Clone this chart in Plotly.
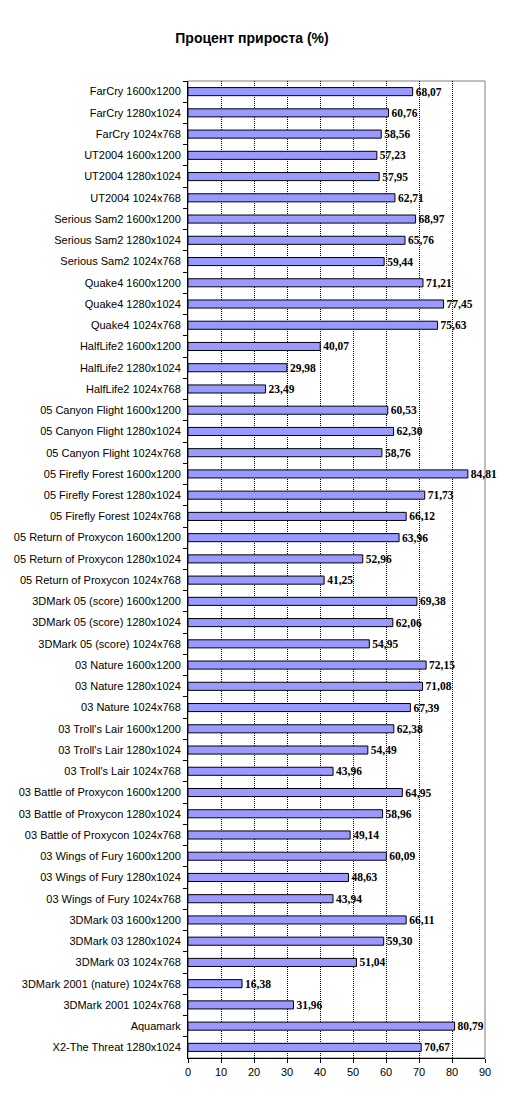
import plotly.graph_objects as go

# categories top to bottom, as in the chart
tests = [
    "FarCry 1600x1200", "FarCry 1280x1024", "FarCry 1024x768",
    "UT2004 1600x1200", "UT2004 1280x1024", "UT2004 1024x768",
    "Serious Sam2 1600x1200", "Serious Sam2 1280x1024", "Serious Sam2 1024x768",
    "Quake4 1600x1200", "Quake4 1280x1024", "Quake4 1024x768",
    "HalfLife2 1600x1200", "HalfLife2 1280x1024", "HalfLife2 1024x768",
    "05 Canyon Flight 1600x1200", "05 Canyon Flight 1280x1024", "05 Canyon Flight 1024x768",
    "05 Firefly Forest 1600x1200", "05 Firefly Forest 1280x1024", "05 Firefly Forest 1024x768",
    "05 Return of Proxycon 1600x1200", "05 Return of Proxycon 1280x1024", "05 Return of Proxycon 1024x768",
    "3DMark 05 (score) 1600x1200", "3DMark 05 (score) 1280x1024", "3DMark 05 (score) 1024x768",
    "03 Nature 1600x1200", "03 Nature 1280x1024", "03 Nature 1024x768",
    "03 Troll's Lair 1600x1200", "03 Troll's Lair 1280x1024", "03 Troll's Lair 1024x768",
    "03 Battle of Proxycon 1600x1200", "03 Battle of Proxycon 1280x1024", "03 Battle of Proxycon 1024x768",
    "03 Wings of Fury 1600x1200", "03 Wings of Fury 1280x1024", "03 Wings of Fury 1024x768",
    "3DMark 03 1600x1200", "3DMark 03 1280x1024", "3DMark 03 1024x768",
    "3DMark 2001 (nature) 1024x768", "3DMark 2001 1024x768",
    "Aquamark", "X2-The Threat 1280x1024",
]

gain = [
    68.07, 60.76, 58.56,
    57.23, 57.95, 62.71,
    68.97, 65.76, 59.44,
    71.21, 77.45, 75.63,
    40.07, 29.98, 23.49,
    60.53, 62.30, 58.76,
    84.81, 71.73, 66.12,
    63.96, 52.96, 41.25,
    69.38, 62.06, 54.95,
    72.15, 71.08, 67.39,
    62.38, 54.49, 43.96,
    64.95, 58.96, 49.14,
    60.09, 48.63, 43.94,
    66.11, 59.30, 51.04,
    16.38, 31.96,
    80.79, 70.67,
]

x_ticks = [0, 10, 20, 30, 40, 50, 60, 70, 80, 90]

# page body has an 8px margin, so the figure is a bit smaller than the window
W, H = 497, 1088

fig = go.Figure()
fig.add_trace(go.Bar(
    x=gain, y=tests, orientation='h',
    marker=dict(color='#9999FF', line=dict(color='black', width=1)),
    width=0.38,
    texttemplate='<b>%{x:.2f}</b>', textposition='outside',
    constraintext='none',
    textfont=dict(family='Liberation Serif', size=11.5, color='black'),
    cliponaxis=False,
))

# grey frame on top and right like the original plot area
fig.add_shape(type='rect', xref='paper', yref='paper', x0=0, x1=1, y0=0, y1=1,
              line=dict(color='#808080', width=1), layer='below')

fig.update_layout(
    width=W, height=H,
    margin=dict(l=180, r=20, t=73, b=38, autoexpand=False),
    paper_bgcolor='white', plot_bgcolor='white',
    separators=', ',
    showlegend=False,
    font=dict(family='Arial', size=11, color='black'),
    title=dict(text='<b>Процент прироста (%)</b>', x=(252 - 8) / W, xanchor='center',
               y=1 - 30 / H, yanchor='middle',
               font=dict(family='Arial', size=14, color='black')),
    xaxis=dict(range=[0, 90], tickvals=x_ticks, showgrid=True, gridcolor='black',
               griddash='1px,1px', gridwidth=1, showline=True, linecolor='black', linewidth=1,
               ticks='outside', ticklen=4, tickcolor='black', zeroline=False,
               tickfont=dict(family='Arial', size=11)),
    yaxis=dict(autorange='reversed', showline=True, linecolor='black', linewidth=1,
               ticks='outside', tickson='boundaries', ticklen=4, tickcolor='black',
               ticklabelstandoff=4, showgrid=False,
               tickfont=dict(family='Arial', size=11)),
)

fig.write_html("out.html")
